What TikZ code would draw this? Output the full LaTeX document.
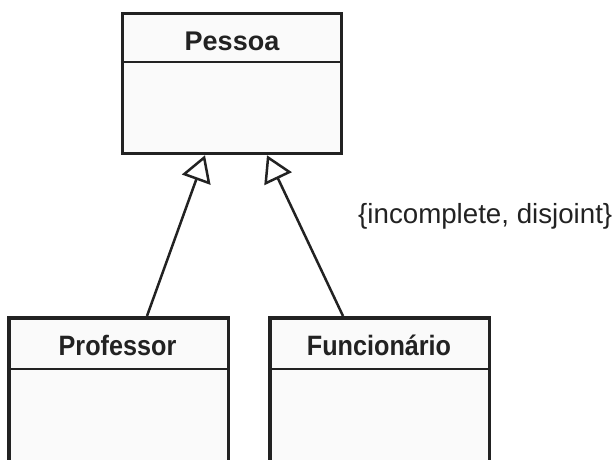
\documentclass[tikz,border=0pt]{standalone}
\usepackage{fontspec}
\setmainfont{Liberation Sans}
\newfontfamily\narrowbold[FakeStretch=0.9]{Liberation Sans}
\usetikzlibrary{arrows.meta}
\usetikzlibrary{positioning}
\definecolor{umlline}{HTML}{222222}
\definecolor{umlfill}{HTML}{FAFAFA}

\begin{document}
\begin{tikzpicture}[x=1pt,y=-1pt,
	classbox/.style={draw=umlline,fill=umlfill,line width=3.5pt,rectangle,inner sep=0pt},
	divider/.style={draw=umlline,line width=2pt},
	title/.style={anchor=base,inner sep=0pt,text=umlline,font=\bfseries\fontsize{27}{30}\selectfont},
	subtitle/.style={anchor=base,inner sep=0pt,text=umlline,font=\narrowbold\bfseries\fontsize{28}{32}\selectfont},
	inherit/.style={draw=umlline,line width=2.5pt,-{Triangle[open,length=26pt,width=30pt,line width=2.5pt]}}]
		\useasboundingbox (0,0) rectangle (614,459);
		\clip (0,0) rectangle (614,459);
		\node[classbox,minimum width=219pt,minimum height=140pt] (pessoa) at (232,83.5){};
		\node[classbox,minimum width=219.5pt,minimum height=180pt] (professor) at (118.5,407.75){};
		\node[classbox,minimum width=219.5pt,minimum height=180pt] (funcionario) at (379.5,407.75){};
		\draw[divider] ([yshift=-50pt]pessoa.north west)--([yshift=-50pt]pessoa.north east);
		\draw[divider] ([yshift=-53pt]professor.north west)--([yshift=-53pt]professor.north east);
		\draw[divider] ([yshift=-53pt]funcionario.north west)--([yshift=-53pt]funcionario.north east);
		\node[title] (pessoatitle) at (232,50){Pessoa};
		\node[subtitle] (professortitle) at (117.5,355){Professor};
		\node[subtitle] (funcionariotitle) at (379,355){Funcionário};
		\draw[inherit] ([xshift=28.5pt]professor.north)--([xshift=-27pt]pessoa.south);
		\draw[inherit] ([xshift=-36.5pt]funcionario.north)--([xshift=35pt]pessoa.south);
		\node[anchor=base west,inner sep=0pt,text=umlline,font=\fontsize{27.7}{30}\selectfont] (constraint) at (358,223){\{incomplete, disjoint\}};
	\end{tikzpicture}
\end{document}
